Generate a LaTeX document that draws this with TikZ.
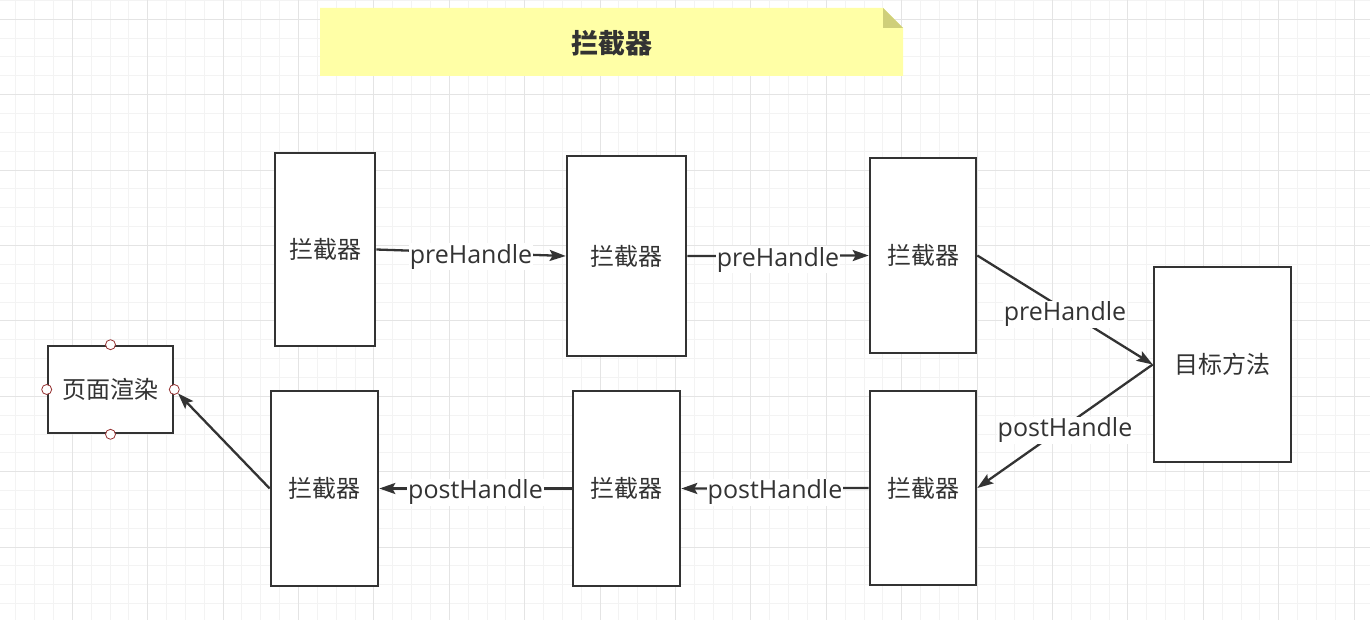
\documentclass[tikz,border=0pt]{standalone}
\usepackage{fontspec}
\setmainfont{Open Sans}
\newfontfamily\cjk{Noto Sans CJK SC}
\usetikzlibrary{arrows.meta}
\definecolor{inkgray}{RGB}{51,51,51}
\definecolor{gridminor}{RGB}{243,243,243}
\definecolor{gridmajor}{RGB}{228,228,228}
\definecolor{noteyellow}{RGB}{255,255,166}
\definecolor{notefold}{RGB}{207,207,122}
\definecolor{handlered}{RGB}{150,50,50}

\tikzset{
  box/.style={draw=inkgray, line width=2.6pt, fill=white, text=inkgray,
    font=\fontsize{24}{28}\selectfont\cjk, inner sep=0pt},
  flow/.style={draw=inkgray, line width=2.3pt,
    -{Stealth[length=16pt,width=11pt,inset=3pt]}},
  flowlabel/.style={fill=white, text=inkgray, font=\fontsize{25}{28}\selectfont,
    inner sep=1pt, yshift=-4pt},
  handle/.style={circle, draw=handlered, fill=white, line width=0.8pt,
    minimum size=10pt, inner sep=0pt},
}

\begin{document}
\begin{tikzpicture}[x=1pt,y=-1pt]
        \useasboundingbox (0,0) rectangle (1370,620);
        \fill[white] (0,0) rectangle (1370,620);

        % Background grid
        \foreach \i in {0,...,73} {
            \draw[gridminor, line width=1pt] ({-3.1+\i*18.85},0) -- ({-3.1+\i*18.85},620);
        }
        \foreach \j in {0,...,33} {
            \draw[gridminor, line width=1pt] (0,{0.45+\j*18.85}) -- (1370,{0.45+\j*18.85});
        }
        \foreach \i in {0,...,18} {
            \draw[gridmajor, line width=1pt] ({-3.1+\i*75.4},0) -- ({-3.1+\i*75.4},620);
        }
        \foreach \j in {0,...,8} {
            \draw[gridmajor, line width=1pt] (0,{19.3+\j*75.4}) -- (1370,{19.3+\j*75.4});
        }

        % Title note
        \fill[noteyellow] (320,8) -- (883,8) -- (903,28) -- (903,76) -- (320,76) -- cycle;
        \fill[notefold] (883,8) -- (903,28) -- (883,28) -- cycle;
        \node[text=inkgray, font=\fontsize{27}{30}\selectfont\cjk\bfseries] (title) at (612,43) {拦截器};

        % Interceptors, way in
        \node[box, minimum width=100pt, minimum height=193pt] (pre1) at (325,249.5) {拦截器};
        \node[box, minimum width=119pt, minimum height=200pt] (pre2) at (626.5,256) {拦截器};
        \node[box, minimum width=106pt, minimum height=195pt] (pre3) at (923,255.5) {拦截器};

        % Target method
        \node[box, minimum width=137pt, minimum height=195pt] (target) at (1222.5,364.5) {目标方法};

        % Interceptors, way out
        \node[box, minimum width=106pt, minimum height=194pt] (post3) at (923,488) {拦截器};
        \node[box, minimum width=107pt, minimum height=195pt] (post2) at (626.5,488.5) {拦截器};
        \node[box, minimum width=107pt, minimum height=195pt] (post1) at (324.5,488.5) {拦截器};

        % Page rendering
        \node[box, minimum width=125pt, minimum height=87pt] (render) at (110.5,389.5) {页面渲染};
        \foreach \a in {north,south,east,west} {
            \node[handle] (render-\a) at (render.\a) {};
        }

        % Connectors
        \draw[flow] (pre1.east) -- node[flowlabel] (lbl1) {preHandle} (pre2.west);
        \draw[flow] (pre2.east) -- node[flowlabel] (lbl2) {preHandle} (pre3.west);
        \draw[flow] (pre3.east) -- node[flowlabel] (lbl3) {preHandle} (target.west);
        \draw[flow] (target.west) -- node[flowlabel] (lbl4) {postHandle} (post3.east);
        \draw[flow] (post3.west) -- node[flowlabel] (lbl5) {postHandle} (post2.east);
        \draw[flow] (post2.west) -- node[flowlabel] (lbl6) {postHandle} (post1.east);
        \draw[flow] (post1.west) -- (render-east);
    \end{tikzpicture}
\end{document}
